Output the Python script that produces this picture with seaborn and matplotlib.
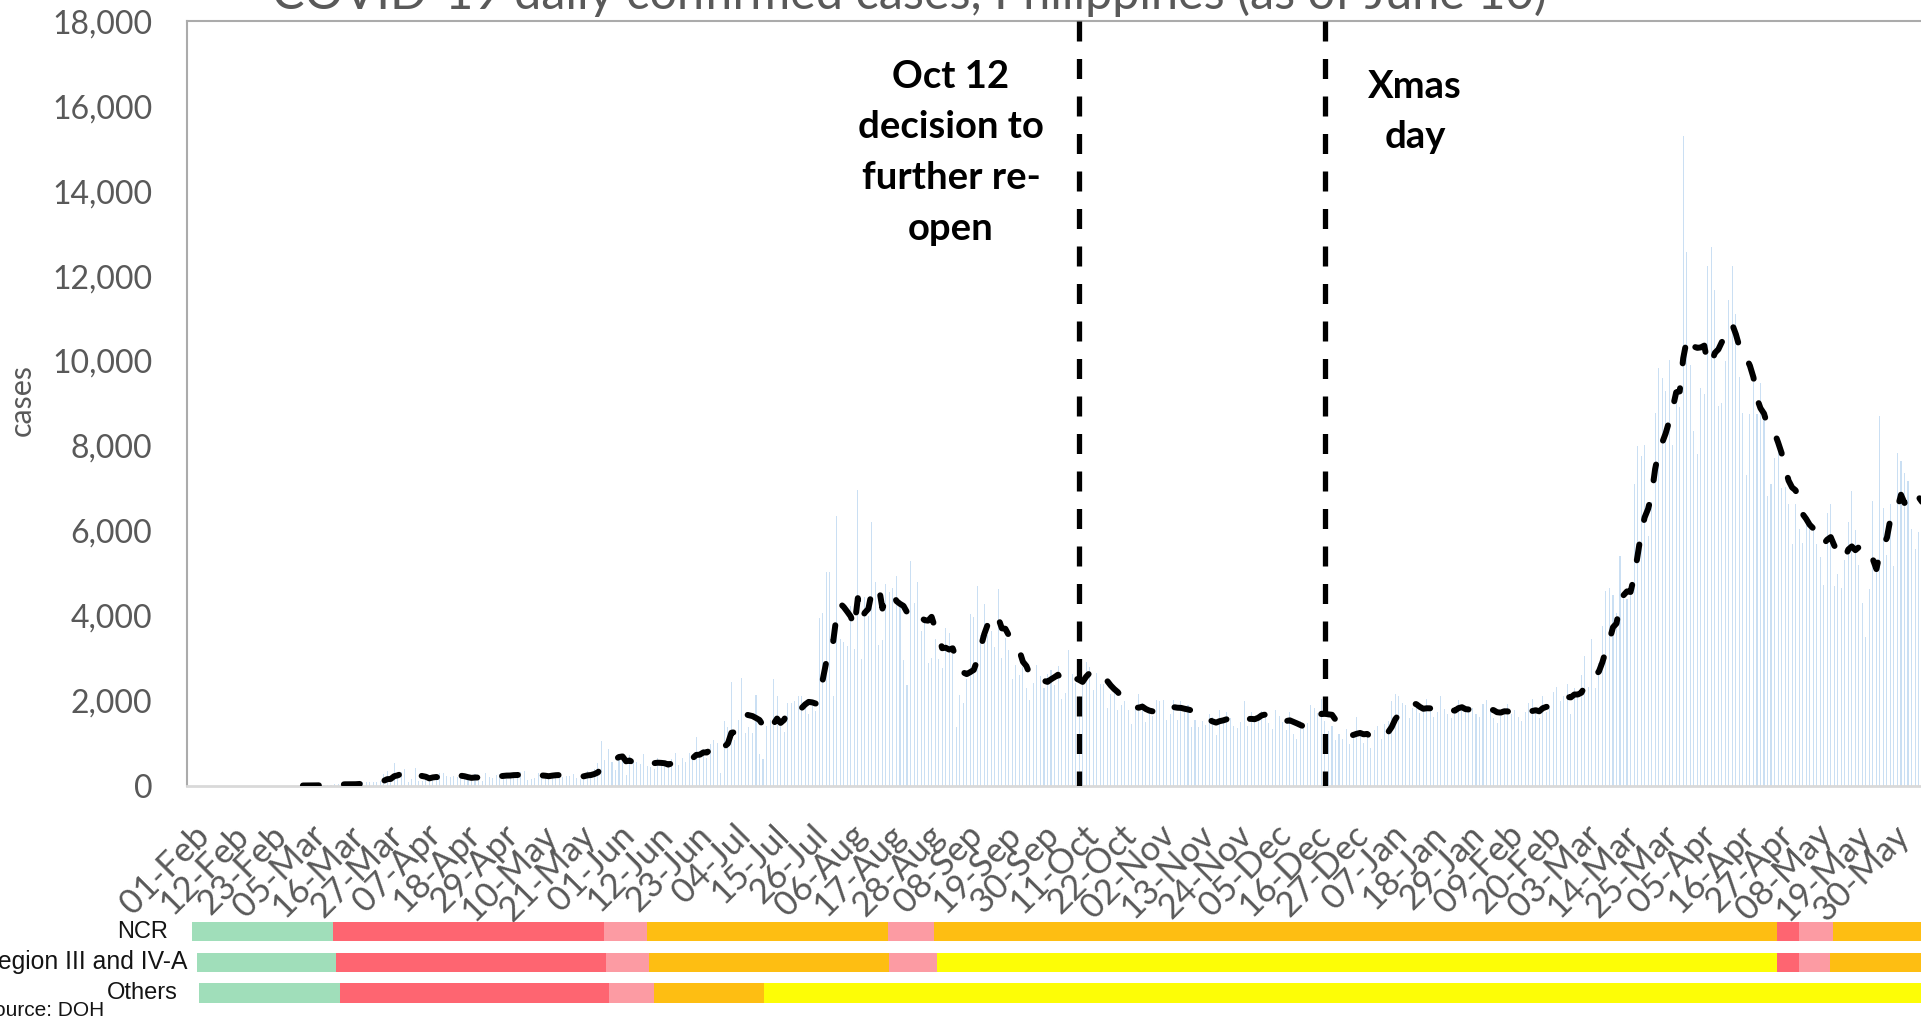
import numpy as np
import pandas as pd
import matplotlib
matplotlib.use("Agg")
import matplotlib.pyplot as plt
from matplotlib.ticker import FuncFormatter
from matplotlib.transforms import ScaledTranslation
import seaborn as sns

# ---------------------------------------------------------------------------
# Daily confirmed COVID-19 cases, Philippines (by report date)
# ---------------------------------------------------------------------------
cases_2020_02 = [0, 0]  # 28-29 Feb
cases_2020_03 = [0, 0, 0, 0, 0, 2, 1, 4, 14, 9,
                 16, 3, 12, 47, 29, 47, 45, 15, 15, 13,
                 77, 73, 82, 90, 84, 71, 96, 272, 343, 128,
                 538]
cases_2020_04 = [227, 322, 385, 76, 152, 414, 104, 106, 206, 119,
                 233, 220, 284, 291, 230, 207, 218, 209, 172, 200,
                 140, 111, 271, 211, 102, 285, 198, 181, 254, 276]
cases_2020_05 = [284, 156, 295, 262, 199, 320, 339, 120, 147, 184,
                 292, 264, 268, 258, 215, 214, 208, 205, 224, 213,
                 279, 180, 163, 258, 350, 284, 380, 539, 1046, 590,
                 862]
cases_2020_06 = [552, 359, 751, 634, 244, 714, 579, 555, 518, 740,
                 450, 443, 396, 657, 526, 459, 522, 629, 767, 490,
                 656, 563, 767, 653, 1150, 802, 859, 653, 985, 1080]
cases_2020_07 = [1006, 294, 1531, 1368, 2434, 1079, 1540, 2539, 1233, 1387,
                 1233, 2124, 747, 634, 1392, 1544, 2498, 2099, 1402, 1257,
                 1951, 1954, 1999, 2103, 2110, 1987, 1678, 1874, 1761, 3954,
                 4063]
cases_2020_08 = [5032, 5032, 2098, 6352, 3462, 3379, 3295, 4226, 3219, 6958,
                 2987, 4444, 4002, 6216, 4786, 3314, 3420, 4749, 4550, 4650,
                 4933, 4339, 2965, 2378, 5277, 4300, 4800, 3637, 3900, 2888,
                 3008]
cases_2020_09 = [3446, 2987, 2771, 3714, 3600, 3100, 1383, 2124, 1949, 2500,
                 4040, 3962, 4699, 3544, 4284, 3550, 3636, 3257, 4632, 3010,
                 3475, 3190, 2498, 2833, 2600, 2800, 2295, 2025, 2423, 2834]
cases_2020_10 = [2589, 2291, 2630, 2720, 2378, 2825, 2044, 2180, 3190, 2630,
                 2425, 2112, 2498, 2900, 2800, 2261, 2650, 2400, 2400, 1835,
                 2152, 2200, 1767, 1900, 1990, 1775, 1450, 1800, 2146, 1950,
                 1500]
cases_2020_11 = [1726, 1646, 2023, 1991, 2021, 1547, 1674, 2014, 1553, 1998,
                 1850, 1900, 1388, 1542, 1376, 1529, 1420, 1692, 1615, 1200,
                 1775, 1500, 1720, 1600, 1400, 1350, 1500, 2000, 1400, 1735]
cases_2020_12 = [1547, 1636, 1756, 1621, 1462, 1341, 1785, 1629, 1487, 1309,
                 1727, 1215, 1092, 1514, 1392, 1466, 1895, 1815, 1712, 2033,
                 1523, 1282, 1401, 1077, 1223, 1096, 1329, 977, 1218, 1604,
                 1215]
cases_2021_01 = [1007, 1152, 887, 1311, 1397, 1093, 1441, 1516, 2000, 2150,
                 2100, 1950, 1891, 1588, 1822, 1914, 1706, 1781, 2035, 1877,
                 1612, 1734, 2103, 1793, 1676, 1594, 1837, 2015, 1888, 1792,
                 1725]
cases_2021_02 = [1817, 1693, 1622, 1912, 2008, 1784, 1588, 1476, 1627, 1831,
                 1918, 1684, 1775, 1604, 1518, 1723, 1932, 2047, 1812, 1596,
                 2112, 1735, 1822, 2195, 2317, 1996, 2113, 2401]
cases_2021_03 = [1689, 2288, 2204, 2611, 3045, 2321, 3439, 2298, 2886, 3749,
                 4578, 4646, 4491, 4066, 5404, 4436, 4387, 4479, 7103, 7999,
                 7757, 8019, 5867, 6666, 8773, 9838, 9595, 9296, 10016, 8019,
                 9296]
cases_2021_04 = [8920, 15310, 12576, 9900, 8355, 7800, 9373, 9216, 12225, 12674,
                 11681, 8929, 9019, 10006, 11429, 12225, 11101, 9628, 8765, 7311,
                 8740, 9514, 8762, 9486, 8747, 6815, 7108, 7723, 7946, 7015]
cases_2021_05 = [7029, 6633, 5685, 6637, 6039, 5720, 6219, 6067, 6045, 5694,
                 5371, 4714, 6427, 6637, 4693, 4987, 4643, 5312, 6213, 6935,
                 6018, 5188, 4302, 3508, 4628, 6708, 5328, 8707, 6531, 5439,
                 6637]
cases_2021_06 = [5166, 7829, 7633, 7350, 7172, 6045, 5576, 5963, 7016]

monthly_series = [
    ("2020-02-28", cases_2020_02), ("2020-03-01", cases_2020_03),
    ("2020-04-01", cases_2020_04), ("2020-05-01", cases_2020_05),
    ("2020-06-01", cases_2020_06), ("2020-07-01", cases_2020_07),
    ("2020-08-01", cases_2020_08), ("2020-09-01", cases_2020_09),
    ("2020-10-01", cases_2020_10), ("2020-11-01", cases_2020_11),
    ("2020-12-01", cases_2020_12), ("2021-01-01", cases_2021_01),
    ("2021-02-01", cases_2021_02), ("2021-03-01", cases_2021_03),
    ("2021-04-01", cases_2021_04), ("2021-05-01", cases_2021_05),
    ("2021-06-01", cases_2021_06),
]

axis_start = pd.Timestamp("2020-02-01")
tick_step_days = 11
event_dates = ["2020-10-12", "2020-12-21"]

title_text = "COVID-19 daily confirmed cases, Philippines (as of June 10)"
oct_note = ["Oct 12", "decision to", "further re-", "open"]
xmas_note = ["Xmas", "day"]

# Community quarantine schedule strip (own timeline units)
quarantine_colors = {
    "none": "#A0DEBA",
    "ECQ": "#FE6571",
    "MECQ": "#FC9BA3",
    "GCQ": "#FEBE12",
    "MGCQ": "#FDFD06",
}
strip_rows = ["NCR", "Region III and IV-A", "Others"]
ncr_levels = ["none", "ECQ", "MECQ", "GCQ", "MECQ", "GCQ", "ECQ", "MECQ", "GCQ"]
ncr_edges = [192, 333, 604, 647, 888, 934, 1777, 1799, 1833, 1925]
region_levels = ["none", "ECQ", "MECQ", "GCQ", "MECQ", "MGCQ", "ECQ", "MECQ", "GCQ"]
region_edges = [197, 336, 606, 649, 889, 937, 1777, 1799, 1830, 1925]
others_levels = ["none", "ECQ", "MECQ", "GCQ", "MGCQ", "MGCQ"]
others_edges = [199, 340, 609, 654, 764, 1777, 1925]
source_text = "Source: DOH"

# ---------------------------------------------------------------------------
frames = [pd.DataFrame({"date": pd.date_range(s, periods=len(v), freq="D"),
                        "cases": v}) for s, v in monthly_series]
df = pd.concat(frames, ignore_index=True)
df["day"] = (df["date"] - axis_start).dt.days.astype(float)
df["avg7"] = df["cases"].rolling(7).mean()

sns.set_theme(style="white")
plt.rcParams["font.family"] = ["Lato", "DejaVu Sans"]
plt.rcParams["lines.scale_dashes"] = False

W, H = 1921, 1019
fig = plt.figure(figsize=(W / 100, H / 100), dpi=100)
fig.patch.set_facecolor("white")

ax = fig.add_axes([187 / W, 1 - 785.5 / H, (W - 187) / W, (785.5 - 21.3) / H])
ax.set_facecolor("white")

sns.barplot(data=df, x="day", y="cases", native_scale=True, width=0.3,
            color="#CADFF3", saturation=1, errorbar=None, linewidth=0, ax=ax)

sns.lineplot(data=df.dropna(subset=["avg7"]), x="day", y="avg7", ax=ax,
             estimator=None, color="black", linewidth=4.3,
             linestyle=(0, (11.5, 18.0)), dash_capstyle="round",
             legend=False, zorder=4)

for d in event_dates:
    xd = (pd.Timestamp(d) - axis_start).days
    ax.plot([xd, xd], [18000, 0], color="black", linewidth=3.8,
            linestyle=(0, (14.4, 12.6)), dash_capstyle="butt", zorder=5)

ax.set_xlim(0, df["day"].max() - 0.3)
ax.set_ylim(0, 18000)
ax.set_yticks(np.arange(0, 18001, 2000))
ax.yaxis.set_major_formatter(FuncFormatter(lambda v, p: f"{int(v):,}"))
ax.tick_params(axis="y", length=0, pad=25, labelsize=23, labelcolor="#595959")

ticks = np.arange(0, df["day"].max() - 5, tick_step_days)
labels = [(axis_start + pd.Timedelta(days=int(t))).strftime("%d-%b") for t in ticks]
ax.set_xticks(ticks)
ax.set_xticklabels(labels, rotation=45, ha="right", va="top",
                   rotation_mode="anchor", fontsize=25, color="#595959")
ax.tick_params(axis="x", length=0, pad=24)
shift = ScaledTranslation(6 / 100, 0, fig.dpi_scale_trans)
for lab in ax.get_xticklabels():
    lab.set_transform(lab.get_transform() + shift)

ax.set_xlabel("")
ax.set_ylabel("")
for side in ["left", "top"]:
    ax.spines[side].set_visible(True)
    ax.spines[side].set_color("#ABABAB")
    ax.spines[side].set_linewidth(1.5)
ax.spines["bottom"].set_color("#D9D9D9")
ax.spines["bottom"].set_linewidth(2.0)
ax.spines["right"].set_visible(False)

# titles and labels
fig.text(909 / W, 1 - 9 / H, title_text, ha="center", va="baseline",
         fontsize=35, color="#595959")
fig.text(22 / W, 1 - 400 / H, "cases", rotation=90, ha="center", va="center",
         fontsize=22, color="#595959")

for i, line in enumerate(oct_note):
    fig.text(951 / W, 1 - (88 + 50.5 * i) / H, line, ha="center", va="baseline",
             fontsize=27.5, fontweight="bold", color="black")
for i, line in enumerate(xmas_note):
    fig.text(1415 / W, 1 - (98 + 50.5 * i) / H, line, ha="center", va="baseline",
             fontsize=27.5, fontweight="bold", color="black")

# quarantine classification strip
pax = fig.add_axes([0, 0, 1, 119 / H])
pax.set_xlim(0, W)
pax.set_ylim(1019, 900)
pax.axis("off")
row_y = [931.5, 962.5, 993]
row_right = [168, 187, 178]
row_size = [17, 17.8, 17]
for y, levels, edges in zip(row_y, [ncr_levels, region_levels, others_levels],
                            [ncr_edges, region_edges, others_edges]):
    starts = np.array(edges[:-1])
    widths = np.diff(edges)
    pax.barh([y] * len(levels), widths, left=starts, height=19.5,
             color=[quarantine_colors[l] for l in levels], linewidth=0)
for y, r, s, name in zip(row_y, row_right, row_size, strip_rows):
    pax.text(r, y, name, ha="right", va="center", fontsize=s,
             family=["Liberation Sans", "DejaVu Sans"], color="#141414")
pax.text(104, 1010, source_text, ha="right", va="center", fontsize=15,
         family=["Liberation Sans", "DejaVu Sans"], color="#141414")

fig.savefig("out.png", dpi=100, facecolor="white")
